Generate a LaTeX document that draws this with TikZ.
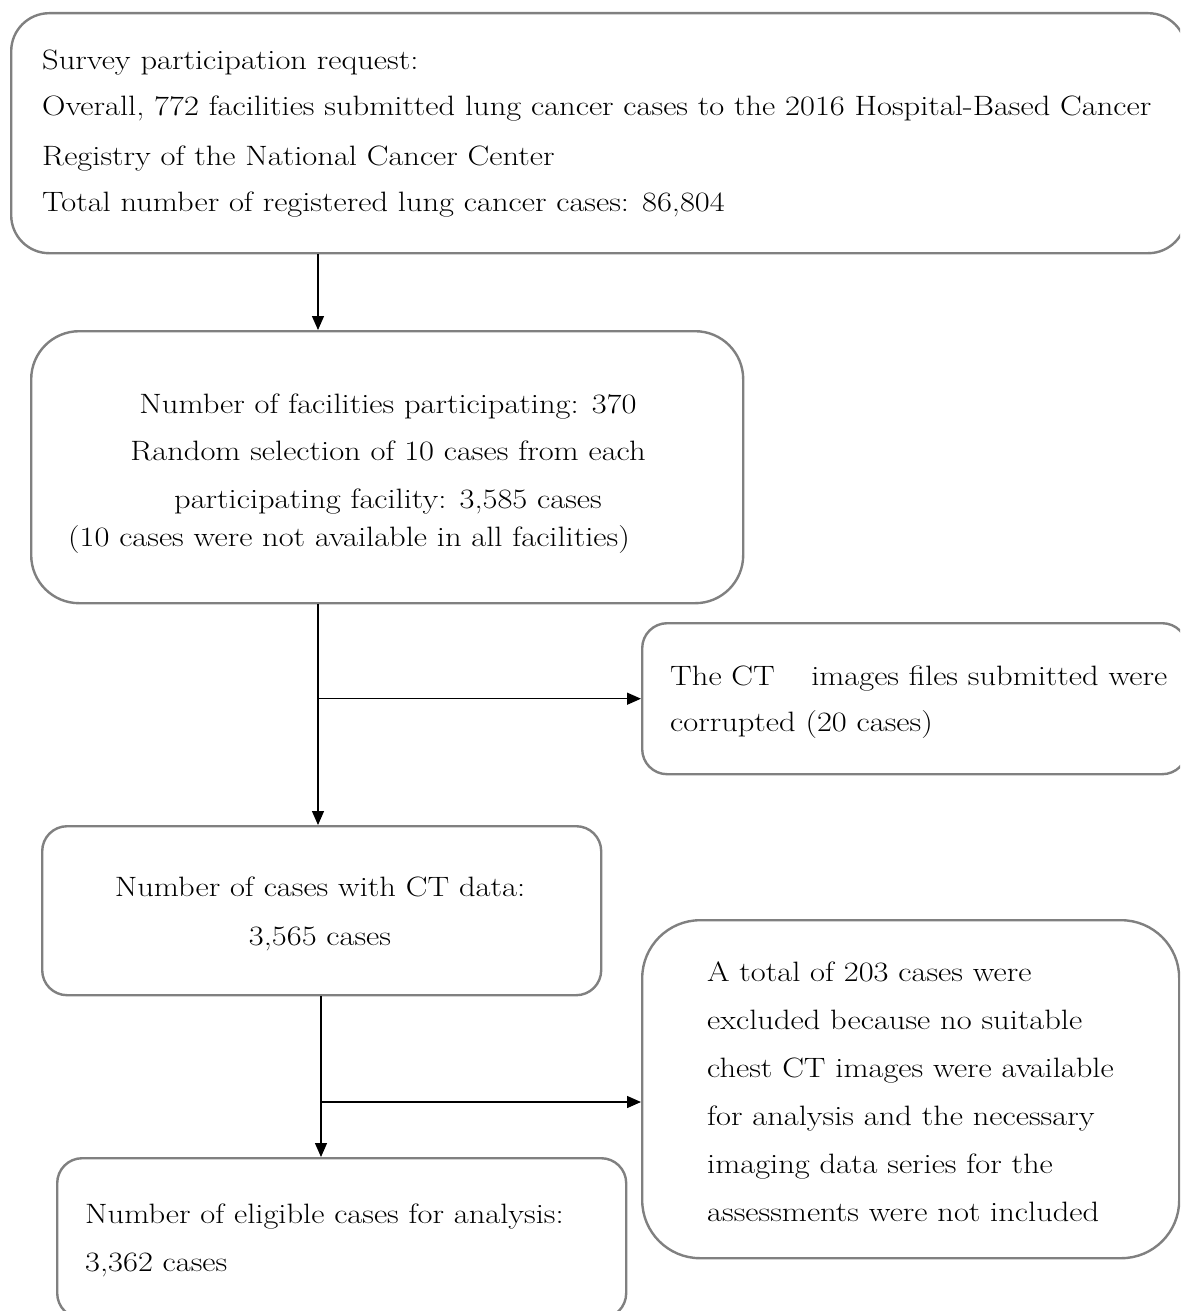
\documentclass[tikz,border=0pt]{standalone}
\usepackage{fontspec}
\setmainfont{Latin Modern Roman}[FakeStretch=1.16]
\usetikzlibrary{arrows.meta}
\definecolor{boxgray}{RGB}{128,128,128}
\begin{document}
\begin{tikzpicture}[x=1pt,y=-1pt,
  box/.style={draw=boxgray, line width=2.4pt, rounded corners=#1, inner sep=0pt, anchor=north west},
  txt/.style={inner sep=0pt, font=\fontsize{28}{47}\selectfont, text=black},
  arr/.style={line width=1.3pt, draw=black, -{Triangle[length=14pt,width=12pt]}}]
\useasboundingbox (0,0) rectangle (1180,1311);
\clip (0,0) rectangle (1180,1311);
\fill[white] (0,0) rectangle (1180,1311);
% boxes
\node[box=38pt, minimum width=1175pt, minimum height=240pt] (b1) at (10,12) {};
\node[box=48pt, minimum width=712pt, minimum height=272pt] (b2) at (30,330) {};
\node[box=25pt, minimum width=545pt, minimum height=151pt] (r1) at (641,622) {};
\node[box=25pt, minimum width=559pt, minimum height=169pt] (b3) at (41,825) {};
\node[box=58pt, minimum width=537pt, minimum height=338pt] (r2) at (641,919) {};
\node[box=25pt, minimum width=569pt, minimum height=160pt] (b4) at (56,1157) {};
% texts box 1
\node[txt, anchor=base west] (t1a) at (42,70) {Survey participation request:};
\node[txt, anchor=base west] (t1b) at (42,116) {Overall, 772 facilities submitted lung cancer cases to the 2016 Hospital-Based Cancer};
\node[txt, anchor=base west] (t1c) at (42,165) {Registry of the National Cancer Center};
\node[txt, anchor=base west] (t1d) at (42,211) {Total number of registered lung cancer cases: 86,804};
% box 2
\node[txt, anchor=base] (t2a) at (388,413) {Number of facilities participating: 370};
\node[txt, anchor=base] (t2b) at (388,460) {Random selection of 10 cases from each};
\node[txt, anchor=base] (t2c) at (388,508) {participating facility: 3,585 cases};
\node[txt, anchor=base] (t2d) at (349,546) {(10 cases were not available in all facilities)};
% right box 1
\node[txt, anchor=base west] (t3a) at (670,685) {The CT\hspace{1.3em}images files submitted were};
\node[txt, anchor=base west] (t3b) at (670,731) {corrupted (20 cases)};
% box 3
\node[txt, anchor=base] (t4a) at (320,896) {Number of cases with CT data:};
\node[txt, anchor=base] (t4b) at (320,945) {3,565 cases};
% right box 2
\node[txt, anchor=base west] (t5a) at (707,981) {A total of 203 cases were};
\node[txt, anchor=base west] (t5b) at (707,1029) {excluded because no suitable};
\node[txt, anchor=base west] (t5c) at (707,1077) {chest CT images were available};
\node[txt, anchor=base west] (t5d) at (707,1125) {for analysis and the necessary};
\node[txt, anchor=base west] (t5e) at (707,1173) {imaging data series for the};
\node[txt, anchor=base west] (t5f) at (707,1221) {assessments were not included};
% box 4
\node[txt, anchor=base west] (t6a) at (85,1223) {Number of eligible cases for analysis:};
\node[txt, anchor=base west] (t6b) at (85,1271) {3,362 cases};
% connectors
\coordinate (c1) at (318,0);
\coordinate (c2) at (321,1102);
\draw[arr] (b1.south -| c1) -- (b2.north -| c1);
\draw[arr] (b2.south -| c1) -- (b3.north -| c1);
\coordinate (j1) at (c1 |- r1.west);
\draw[arr] (j1) -- (r1.west);
\draw[arr] (b3.south -| c2) -- (b4.north -| c2);
\draw[arr] (c2) -- (c2 -| r2.west);
\end{tikzpicture}
\end{document}
